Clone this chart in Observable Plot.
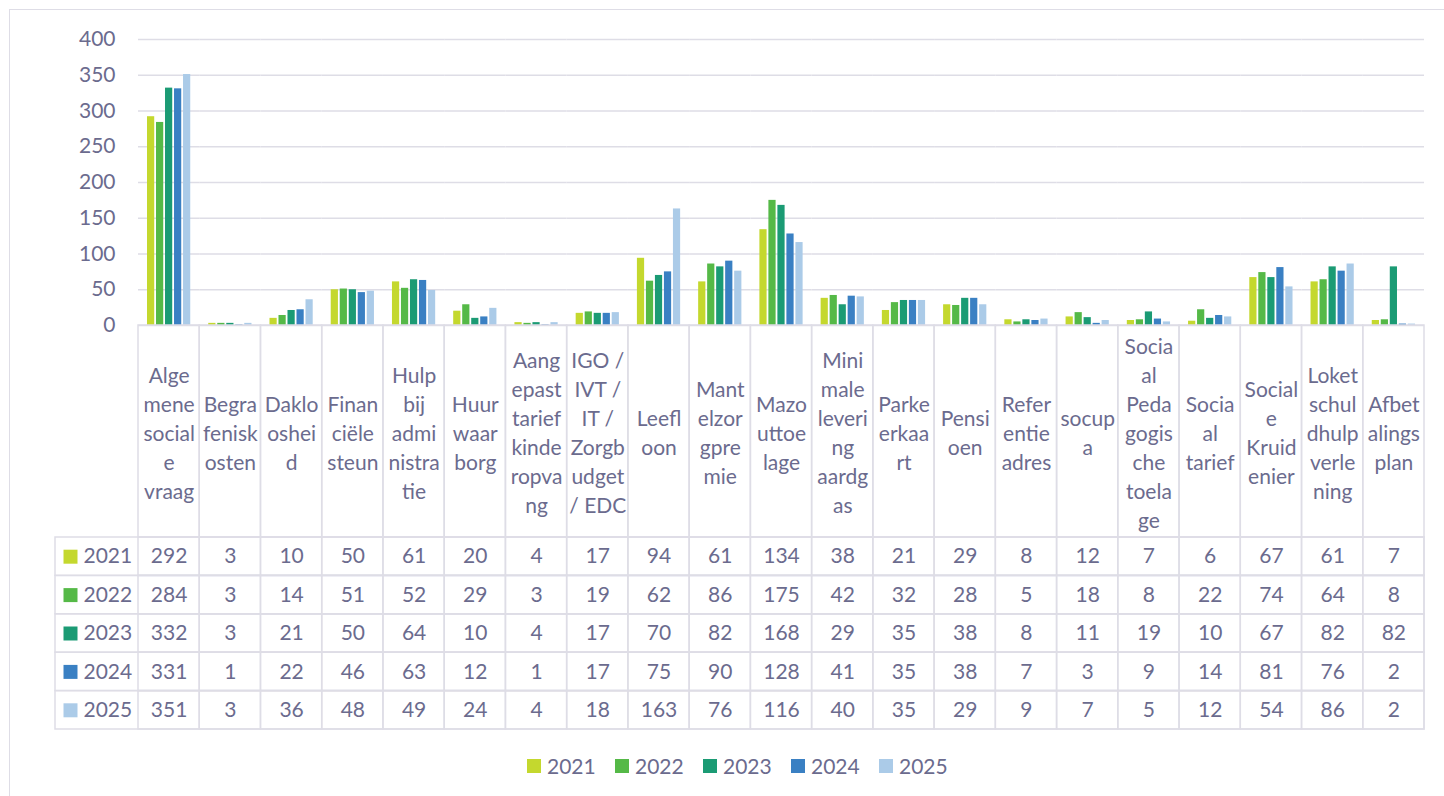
<!DOCTYPE html>
<html>
<head>
<meta charset="utf-8">
<script src="https://cdn.jsdelivr.net/npm/d3@7"></script>
<script src="https://cdn.jsdelivr.net/npm/@observablehq/plot@0.6"></script>
<style>
  html, body { margin: 0; padding: 0; background: #fff; }
  #wrap { position: relative; width: 1444px; height: 796px; overflow: hidden; font-family: Lato, "Open Sans", sans-serif; }
  #frame { position: absolute; left: 9px; top: 9px; width: 1500px; height: 900px; border-left: 1.5px solid #dedde6; border-top: 1.5px solid #dedde6; }
  .abs { position: absolute; left: 0; }
  #legend { position: absolute; left: 527px; top: 753px; display: flex; gap: 0; font-size: 21px; color: #6b6b8e; }
  #legend .item { display: flex; align-items: center; width: 88px; }
  #legend .sw { width: 14px; height: 14px; margin-right: 6px; }
</style>
</head>
<body>
<div id="wrap">
  <div id="frame"></div>
  <div id="bars" class="abs" style="top:0"></div>
  <div id="header" class="abs" style="top:324px"></div>
  <div id="table" class="abs" style="top:536px"></div>
  <div id="legend"></div>
</div>
<script>
const categories = ["Algemene sociale vraag", "Begrafeniskosten", "Dakloosheid", "Financiële steun", "Hulp bij administratie", "Huurwaarborg", "Aangepast tarief kinderopvang", "IGO / IVT / IT / Zorgbudget / EDC", "Leefloon", "Mantelzorgpremie", "Mazoutoelage", "Minimale levering aardgas", "Parkeerkaart", "Pensioen", "Referentieadres", "socupa", "Sociaal Pedagogische toelage", "Sociaal tarief", "Sociale Kruidenier", "Loket schuldhulpverlening", "Afbetalingsplan"];
const headerLabels = ["Alge\nmene\nsocial\ne\nvraag", "Begra\nfenisk\nosten", "Daklo\noshei\nd", "Finan\nciële\nsteun", "Hulp\nbij\nadmi\nnistra\ntie", "Huur\nwaar\nborg", "Aang\nepast\ntarief\nkinde\nropva\nng", "IGO /\nIVT /\nIT /\nZorgb\nudget\n/ EDC", "Leefl\noon", "Mant\nelzor\ngpre\nmie", "Mazo\nuttoe\nlage", "Mini\nmale\nleveri\nng\naardg\nas", "Parke\nerkaa\nrt", "Pensi\noen", "Refer\nentie\nadres", "socup\na", "Socia\nal\nPeda\ngogis\nche\ntoela\nge", "Socia\nal\ntarief", "Social\ne\nKruid\nenier", "Loket\nschul\ndhulp\nverle\nning", "Afbet\nalings\nplan"];
const years = ["2021", "2022", "2023", "2024", "2025"];
const colors = ["#c4d82e", "#55b947", "#1b9b74", "#3a80c3", "#abcbe8"];
const v2021 = [292, 3, 10, 50, 61, 20, 4, 17, 94, 61, 134, 38, 21, 29, 8, 12, 7, 6, 67, 61, 7];
const v2022 = [284, 3, 14, 51, 52, 29, 3, 19, 62, 86, 175, 42, 32, 28, 5, 18, 8, 22, 74, 64, 8];
const v2023 = [332, 3, 21, 50, 64, 10, 4, 17, 70, 82, 168, 29, 35, 38, 8, 11, 19, 10, 67, 82, 82];
const v2024 = [331, 1, 22, 46, 63, 12, 1, 17, 75, 90, 128, 41, 35, 38, 7, 3, 9, 14, 81, 76, 2];
const v2025 = [351, 3, 36, 48, 49, 24, 4, 18, 163, 76, 116, 40, 35, 29, 9, 7, 5, 12, 54, 86, 2];
const yTicks = [0, 50, 100, 150, 200, 250, 300, 350, 400];

const series = [v2021, v2022, v2023, v2024, v2025];
const rows = [];
years.forEach((yr, j) => categories.forEach((c, i) => rows.push({cat: c, year: yr, value: series[j][i]})));

const textColor = "#6b6b8e";
const lineColor = "#dedde6";
const font = "Lato, 'Open Sans', sans-serif";
const fs = 21;
const W = 1444;
const color = {domain: years, range: colors};

// Bars
const bars = Plot.plot({
  width: W, height: 330,
  marginLeft: 138, marginRight: 20, marginTop: 39, marginBottom: 5,
  style: {fontFamily: font, fontSize: fs + "px", color: textColor, background: "transparent", overflow: "visible"},
  fx: {domain: categories, padding: 0, round: false, axis: null},
  x: {domain: years, paddingInner: 0.2, paddingOuter: 1.0, round: false, axis: null},
  y: {domain: [0, 400]},
  color,
  marks: [
    Plot.gridY(yTicks, {stroke: lineColor, strokeOpacity: 1, strokeWidth: 1.5}),
    Plot.axisY(yTicks, {tickSize: 0, tickPadding: 23, fontSize: fs, fill: textColor, label: null}),
    Plot.barY(rows, {fx: "cat", x: "year", y: "value", fill: "year"})
  ]
});
document.getElementById("bars").appendChild(bars);

// Header row of the data table
const header = Plot.plot({
  width: W, height: 214,
  marginLeft: 138, marginRight: 20, marginTop: 1, marginBottom: 1,
  style: {fontFamily: font, fontSize: fs + "px", color: textColor, background: "transparent", overflow: "visible"},
  x: {domain: categories, padding: 0, round: false, axis: null},
  marks: [
    Plot.cell(categories, {x: d => d, fill: "none", stroke: lineColor, strokeWidth: 1.5}),
    Plot.text(categories, {x: d => d, text: (d, i) => headerLabels[i], frameAnchor: "middle", lineAnchor: "middle", lineHeight: 29 / fs, fontSize: fs, fill: textColor})
  ]
});
document.getElementById("header").appendChild(header);

// Data rows
const table = Plot.plot({
  width: W, height: 194,
  marginLeft: 55, marginRight: 20, marginTop: 1, marginBottom: 1,
  style: {fontFamily: font, fontSize: fs + "px", color: textColor, background: "transparent", overflow: "visible"},
  x: {domain: categories, range: [138, 1424], padding: 0, round: false, axis: null},
  y: {domain: years, padding: 0, round: false, axis: null},
  color,
  marks: [
    Plot.cell(years, {y: d => d, fill: "none", stroke: lineColor, strokeWidth: 1.5}),
    Plot.cell(rows, {x: "cat", y: "year", fill: "none", stroke: lineColor, strokeWidth: 1.5}),
    Plot.text(rows, {x: "cat", y: "year", text: "value", fontSize: fs, fill: textColor}),
    Plot.dot(years, {y: d => d, frameAnchor: "left", dx: 15, symbol: "square", r: 7.9, fill: d => d}),
    Plot.text(years, {y: d => d, text: d => d, frameAnchor: "left", textAnchor: "start", dx: 28, fontSize: fs, fill: textColor})
  ]
});
document.getElementById("table").appendChild(table);

// Legend
const lg = document.getElementById("legend");
years.forEach((yr, j) => {
  const it = document.createElement("div");
  it.className = "item";
  const sw = document.createElement("span");
  sw.className = "sw";
  sw.style.background = colors[j];
  const t = document.createElement("span");
  t.textContent = yr;
  it.appendChild(sw); it.appendChild(t);
  lg.appendChild(it);
});
</script>
</body>
</html>
